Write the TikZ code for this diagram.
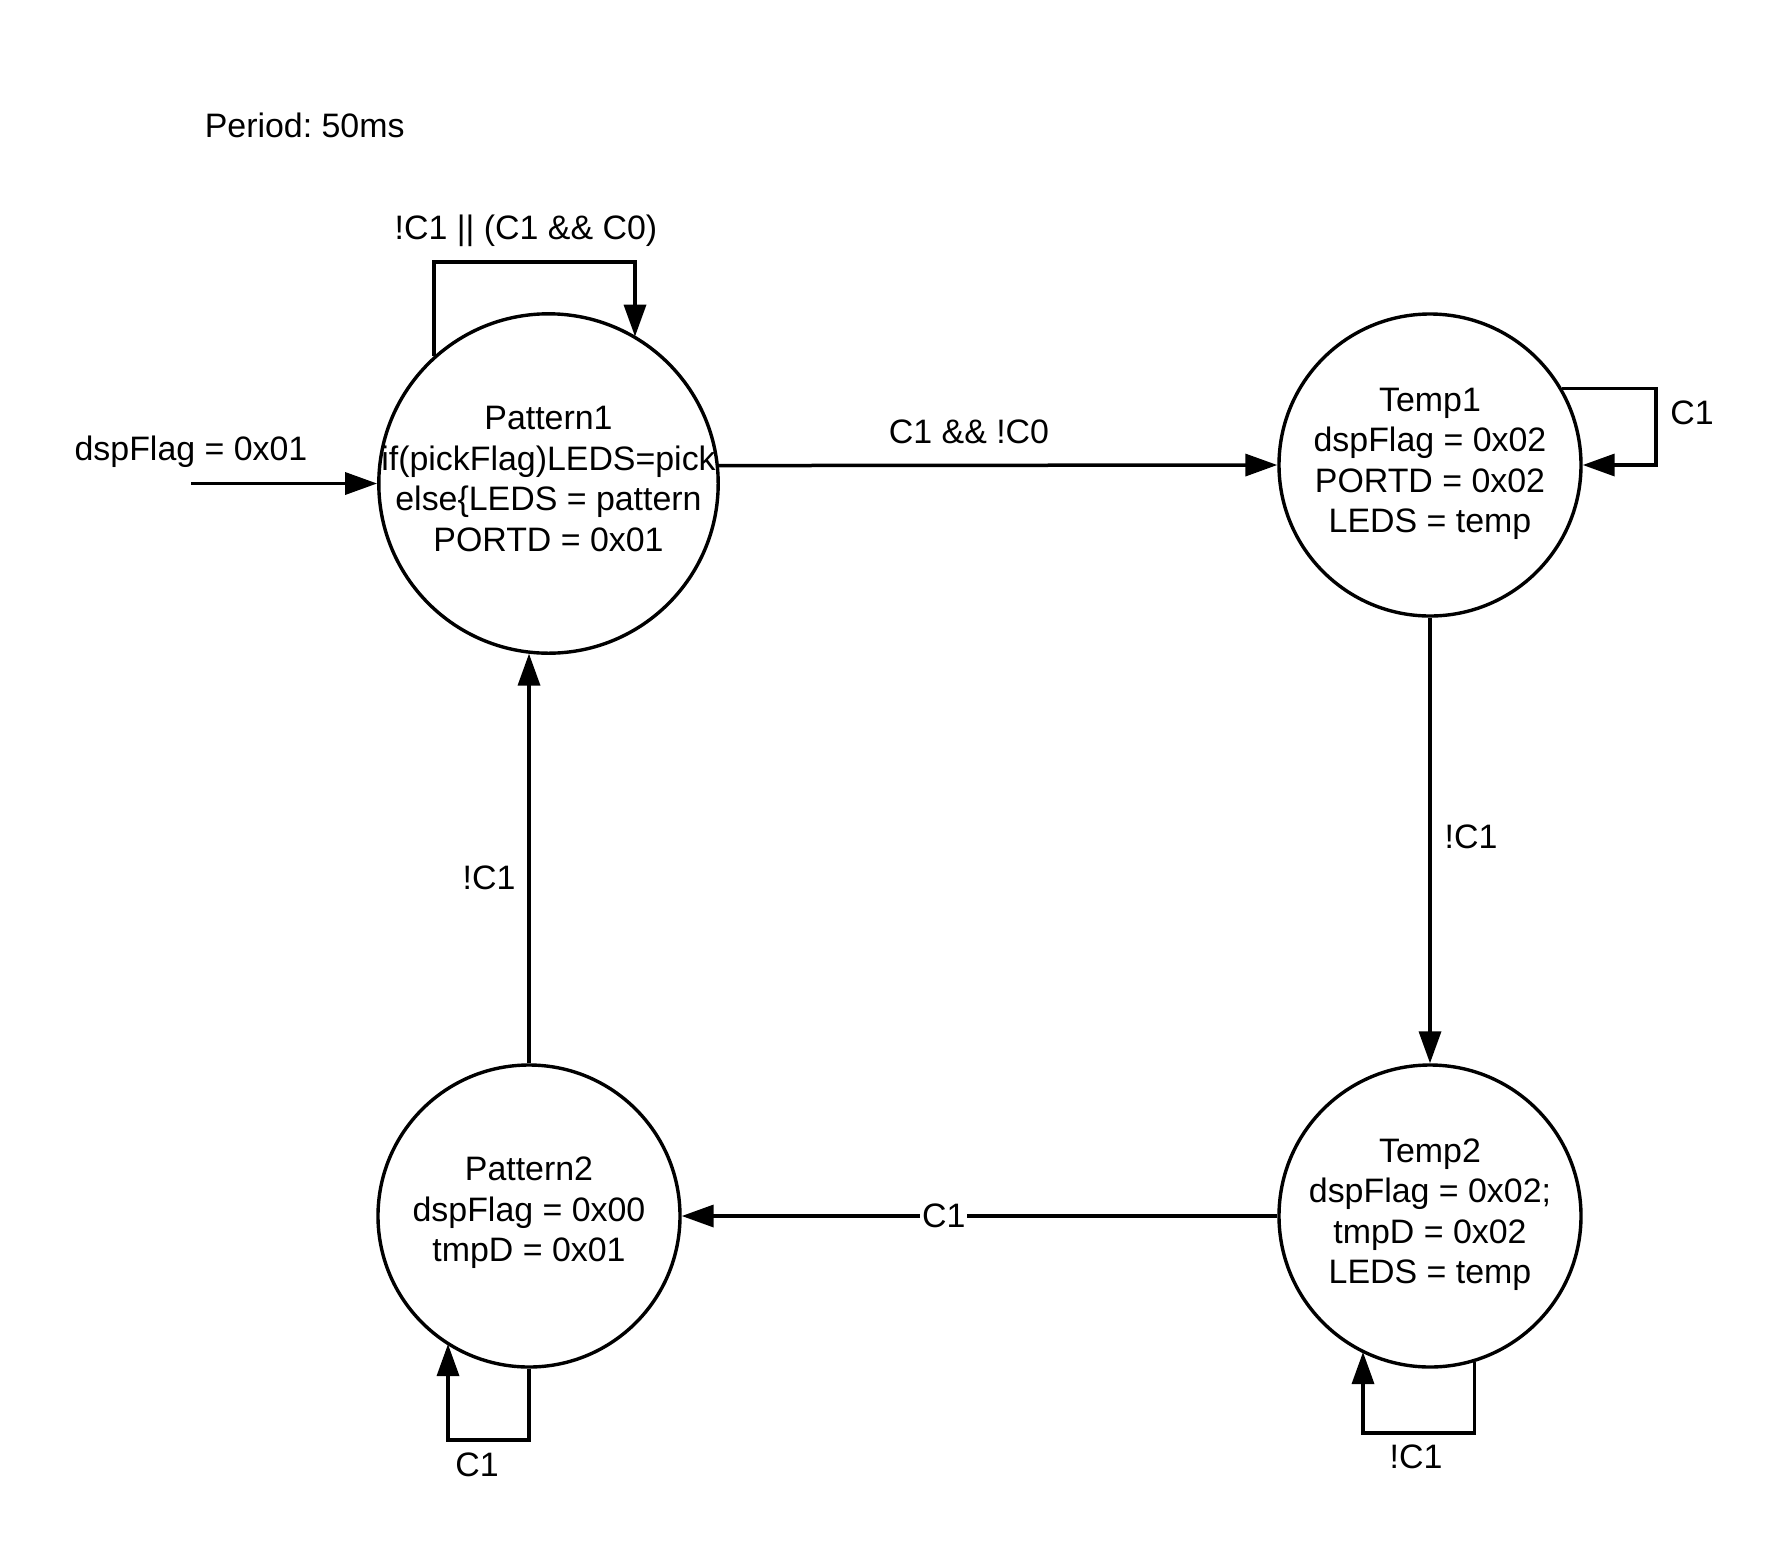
\documentclass[tikz,border=0pt]{standalone}
\usepackage{fontspec}
\setmainfont{Liberation Sans}
\usetikzlibrary{arrows.meta}
\frenchspacing
\begin{document}
\begin{tikzpicture}[x=1pt,y=-1pt,
  every node/.style={font=\fontsize{33.9}{40.4}\selectfont, inner sep=0pt},
  state/.style={circle, draw, line width=3.4pt, minimum size=#1, inner sep=0pt},
  lbl/.style={align=center},
  arr/.style={line width=3.5pt, -{Triangle[length=32pt,width=22pt]}},
]
\path[use as bounding box] (0,0) rectangle (1789,1564);
\fill[white] (0,0) rectangle (1789,1564);

% states
\node[state=339.4pt] (p1) at (548.5,483.5) {};
\node[state=302pt] (t1) at (1430,465) {};
\node[state=302pt] (t2) at (1430,1216) {};
\node[state=302pt] (p2) at (529,1216) {};

\node[lbl] (p1t) at (548.5,479) {Pattern1\\if(pickFlag)LEDS=pick\\else\{LEDS = pattern\\PORTD = 0x01};
\node[lbl] (t1t) at (1430,464) {Temp1\\dspFlag = 0x02\\PORTD = 0x02\\LEDS = temp};
\node[lbl] (t2t) at (1430,1214.5) {Temp2\\dspFlag = 0x02;\\tmpD = 0x02\\LEDS = temp};
\node[lbl] (p2t) at (529,1213) {Pattern2\\dspFlag = 0x00\\tmpD = 0x01};

% title
\node[anchor=west] (period) at (204.6,125.7) {Period: 50ms};

% initial arrow
\coordinate (init) at (191,483.5);
\draw[arr] (init) -- (p1.west);
\node (initl) at (191,451.5) {dspFlag = 0x01};

% pattern1 -> temp1
\draw[arr] (p1.6.26) -- (t1.west);
\node (l12) at (969,432) {C1 \&\& !C0};

% pattern1 self loop
\coordinate (l1b) at (635,262);
\draw[arr] (p1.132.5) |- (l1b) -- (p1.59.6 -| l1b);
\node (l11) at (526,231) {!C1 || (C1 \&\& C0)};

% temp1 self loop
\coordinate (l2) at (1656,427);
\draw[arr] (t1.30.2) -| (l2) |- (t1.east);
\node (lt1) at (1692,413) {C1};

% temp1 -> temp2
\draw[arr] (t1.south) -- (t2.north);
\node (lt12) at (1471,837) {!C1};

% temp2 -> pattern2
\draw[arr] (t2.west) -- node[pos=0.56, fill=white, inner sep=2pt] (lt2p2) {C1} (p2.east);

% pattern2 -> pattern1
\draw[arr] (p2.north) -- (p1.263.7 -| p2.north);
\node (lp21) at (489,878) {!C1};

% pattern2 self loop
\coordinate (l3) at (448,1440);
\draw[arr] (p2.south) |- (l3) -- (p2.237.4 -| l3);
\node (lp2) at (477,1465) {C1};

% temp2 self loop
\coordinate (l4) at (1363,1433);
\draw[arr] (t2.287.6) |- (l4) -- (t2.243.5 -| l4);
\node (lt2) at (1416,1457) {!C1};
\end{tikzpicture}
\end{document}
